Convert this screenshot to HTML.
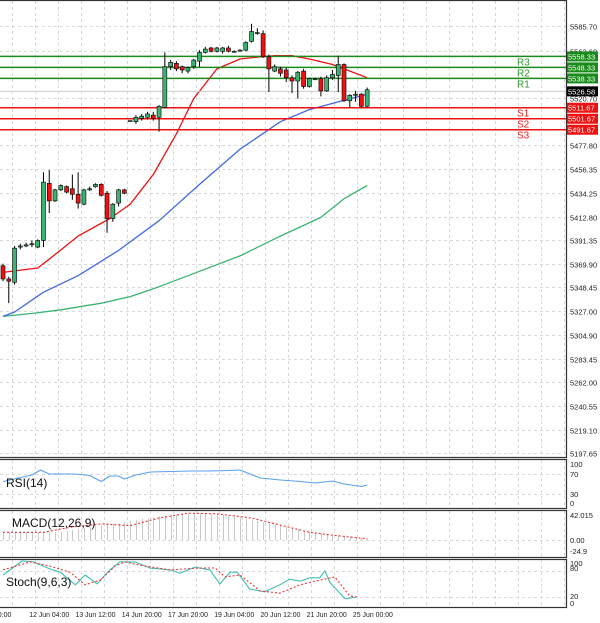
<!DOCTYPE html>
<html><head><meta charset="utf-8"><style>
body{margin:0;background:#fff;}
svg{display:block;font-family:"Liberation Sans",sans-serif;}
</style></head><body>
<svg id="c" width="600" height="623" viewBox="0 0 600 623"></svg>
<script>
const opens=[5368,5356,5353,5385,5386,5388,5385,5391,5443,5427,5437,5440,5438,5433,5424,5437,5440,5442,5434,5411,5425,5437,5500,5499,5502,5503,5505,5503,5512,5549,5552,5549,5545,5549,5554,5562,5566,5563,5563,5566,5563,5564,5564,5572,5580,5579,5558,5545,5547,5546,5539,5536,5545,5531,5538,5538,5527,5539,5541,5551,5518,5523,5524,5513];
const closes=[5356,5354,5384,5386,5387,5388,5391,5444,5427,5437,5441,5435,5433,5425,5437,5438,5442,5432,5411,5424,5437,5434,5500,5503,5504,5506,5502,5513,5549,5553,5547,5546,5548,5555,5562,5565,5563,5566,5566,5563,5563,5564,5571,5581,5580,5558,5547,5549,5543,5539,5536,5544,5531,5538,5538,5527,5539,5542,5551,5518,5523,5524,5513,5528];
const highs=[5370,5358,5386,5388,5389,5391,5392,5453,5455,5438,5442,5441,5451,5453,5438,5440,5443,5443,5436,5425,5438,5438,5500,5505,5506,5508,5508,5514,5562,5555,5554,5550,5549,5556,5564,5567,5567,5567,5567,5568,5564,5565,5572,5588,5584,5582,5560,5551,5549,5548,5541,5545,5547,5539,5539,5540,5541,5546,5559,5552,5524,5527,5525,5530];
const lows=[5354,5334,5351,5383,5385,5385,5384,5385,5416,5426,5436,5434,5428,5420,5423,5436,5439,5431,5398,5408,5422,5433,5500,5497,5500,5501,5500,5490,5511,5546,5545,5543,5543,5547,5549,5561,5562,5562,5561,5562,5562,5563,5563,5571,5578,5557,5526,5544,5540,5535,5525,5520,5529,5530,5537,5522,5526,5537,5526,5517,5512,5517,5512,5512];
const ma1Idx=[0,6,8,13,18.5,22,26,30,33,37,41,44.5,47,50,53,57,59,63];
const ma1Val=[5362,5366,5374,5395,5411,5424,5451,5488,5520,5547,5556,5558,5559,5559,5556,5551,5547,5539];
const ma2Idx=[0,2,7,13,20,27,34,41,48,53,58,63];
const ma2Val=[5322,5326,5344,5359,5382,5409,5442,5474,5499,5510,5517,5524];
const ma3Idx=[0,5.5,10,17,22,27,34,41,48,55,59,63];
const ma3Val=[5322,5325,5328,5334,5340,5349,5363,5377,5395,5412,5429,5441];
const resLevels=[5558.33,5548.33,5538.33];
const resNames=["R3","R2","R1"];
const supLevels=[5511.67,5501.67,5491.67];
const supNames=["S1","S2","S3"];
const lastPrice=5526.58;
const priceTicks=[5585.70,5563.60,5520.70,5477.80,5456.35,5434.25,5412.80,5391.35,5369.90,5348.45,5327.00,5304.90,5283.45,5262.00,5240.55,5219.10,5197.65];
const rsiIdx=[0,5,6.5,8,12.5,15,17,18.5,20,21,23,25.5,29,32.5,36,39,41,44.5,48,51.5,54,57,59,62,63];
const rsiVal=[55,68,78,70,70,67,55,66,66,60,68,74,75,76,76,77,78,62,58,55,52,56,50,45,48];
const macdHist=[13,13,13,13,13,13,13,13,13,13,14,15,17,19,20,22,24,25,26,27,28,30,32,34,36,37,38,40,41,42,43,44,45,45,45,45,44,43,42,41,40,38,36,34,32,30,28,26,24,22,20,18,16,14,12,11,10,9,8,7,6,5,4,3];
const sigIdx=[0,7,12,17,22,27,32,37,43,48,53,58,63];
const sigVal=[13,13,22,27,24,37,45,44,37,25,13,7,2];
const stKIdx=[0,3.3,5.2,8.1,9.9,12.5,14.2,16.3,18.5,20.2,22.8,25.4,28.9,30.6,33.2,35.8,37.5,39.3,40.5,42.7,45.3,47.9,49.6,51.4,53.1,54.8,55.7,56.6,59.2,61.2];
const stKVal=[67,97,95,80,73,46,67,48,78,95,95,82,78,71,84,78,48,73,73,37,31,46,58,54,61,61,76,50,16,20];
const stDIdx=[0,4.7,8.1,11.6,14.2,16.8,19.4,21.1,23.7,28.9,34.1,36.7,38.4,41,44.5,47.9,51.4,54.8,57.4,60,61.2];
const stDVal=[78,95,86,73,46,56,86,95,88,78,82,82,63,67,33,28,46,56,63,22,20];
const timeLabels=["11 Jun 20:00","12 Jun 04:00","13 Jun 12:00","14 Jun 20:00","17 Jun 20:00","19 Jun 04:00","20 Jun 12:00","21 Jun 20:00","25 Jun 00:00"];
const timeIdx=[-2,8,16,24,32,40,48,56,64];

const NS="http://www.w3.org/2000/svg";
const svg=document.getElementById('c');
function mk(t,a,p){const e=document.createElementNS(NS,t);for(const k in a)e.setAttribute(k,a[k]);(p||svg).appendChild(e);return e;}
const X=i=>3+i*5.78;
const Y=p=>145+(5477.8-p)*1.1;
const AX=566;
const rsiY=v=>509-v*0.5;
const macdY=v=>540-v*0.595;
const stY=v=>606.3-v*0.467;
const grid={stroke:"#d8d8d8","stroke-dasharray":"3,3","stroke-width":1};

for(let gx=12;gx<AX;gx+=23){
  [[1,457],[460,507],[511,556],[560,606]].forEach(r=>{
    const l=mk('line',Object.assign({x1:gx+.5,x2:gx+.5,y1:r[0],y2:r[1]},grid));
    
    
  });
}
priceTicks.forEach(p=>{
  const y=Math.round(Y(p))+.5;
  const l=mk('line',Object.assign({x1:0,x2:AX,y1:y,y2:y},grid));
  
  
  const t=mk('text',{x:570,y:y+3,"font-size":7.5,fill:"#222"});
  t.textContent=p.toFixed(2);
  
  
});
function line(idx,val,fy,col,name,extra){
  const d=idx.map((i,k)=>(k?'L':'M')+X(i).toFixed(1)+','+fy(val[k]).toFixed(1)).join('');
  const e=mk('path',Object.assign({d:d,fill:'none',stroke:col,'stroke-width':1.3,'stroke-linejoin':'round'},extra||{}));
  
  
}
line(ma3Idx,ma3Val,Y,'#3cb371','ma-green');
line(ma2Idx,ma2Val,Y,'#4169e1','ma-blue');
line(ma1Idx,ma1Val,Y,'#ee1111','ma-red');
resLevels.forEach((p,k)=>{
  const y=Y(p);
  const l=mk('line',{x1:0,x2:AX,y1:y,y2:y,stroke:'#1a8a1a','stroke-width':1.5});
  
  
  const t=mk('text',{x:517,y:y+9,'font-size':10,fill:'#2e9a2e'});t.textContent=resNames[k];
  
  
  const r=mk('rect',{x:567,y:y-5,width:31,height:10,fill:'#1a8a1a'});
  
  
  const tt=mk('text',{x:568,y:y+3,'font-size':7.5,fill:'#fff'});tt.textContent=p.toFixed(2);
  
  
});
supLevels.forEach((p,k)=>{
  const y=Y(p);
  const l=mk('line',{x1:0,x2:AX,y1:y,y2:y,stroke:'#ee1111','stroke-width':1.5});
  
  
  const t=mk('text',{x:517,y:y+9,'font-size':10,fill:'#ee2222'});t.textContent=supNames[k];
  
  
  const r=mk('rect',{x:567,y:y-5,width:31,height:10,fill:'#ee1111'});
  
  
  const tt=mk('text',{x:568,y:y+3,'font-size':7.5,fill:'#fff'});tt.textContent=p.toFixed(2);
  
  
});
{
  const y=Y(lastPrice);
  const l=mk('line',{x1:0,x2:AX,y1:y,y2:y,stroke:'#ccc','stroke-width':1});
  
  
  const r=mk('rect',{x:567,y:y-5,width:31,height:10,fill:'#000'});
  
  
  const tt=mk('text',{x:568,y:y+3,'font-size':7.5,fill:'#fff'});tt.textContent=lastPrice.toFixed(2);
  
  
}
opens.forEach((o,i)=>{
  const c=closes[i],x=X(i);
  const w=mk('line',{x1:x,x2:x,y1:Y(highs[i]),y2:Y(lows[i]),stroke:'#000','stroke-width':1});
  
  
  const top=Y(Math.max(o,c)),bot=Y(Math.min(o,c));
  const b=mk('rect',{x:x-2,y:top,width:4,height:Math.max(1,bot-top),fill:c>=o?'#3cb371':'#ee1111',stroke:'#000','stroke-width':0.6});
  
  
});
[[0,0,AX,457],[0,459,AX,49],[0,510,AX,47],[0,559,AX,48]].forEach(r=>{
  const f=mk('rect',{x:r[0]-1,y:r[1]+.5,width:r[2]+1.5,height:r[3],fill:'none',stroke:'#333','stroke-width':1.2});
  
  
});
function sub(lbl,y){const t=mk('text',{x:570,y:y,'font-size':7.5,fill:'#222'});t.textContent=lbl;
  
  }
function hg(y){const l=mk('line',Object.assign({x1:0,x2:AX,y1:y,y2:y},grid));
  
  }
hg(474.5);hg(494.5);
sub('100',467);sub('70',477);sub('30',497);sub('0',506);
line(rsiIdx,rsiVal,rsiY,'#5aa0ef','rsi-line',{'stroke-width':1.1});
{const t=mk('text',{x:6,y:487,'font-size':12,fill:'#111'});t.textContent='RSI(14)';
}
hg(540.5);
sub('42.015',518);sub('0.00',543);sub('-24.9',554);
macdHist.forEach((v,i)=>{
  const x=Math.round(X(i))+.5;
  const b=mk('line',{x1:x,x2:x,y1:macdY(0),y2:macdY(v),stroke:'#c8c8c8','stroke-width':1});
  
  
});
line(sigIdx,sigVal,macdY,'#ee3333','macd-signal',{'stroke-dasharray':'2,2','stroke-width':1.1});
{const t=mk('text',{x:12,y:527,'font-size':12,fill:'#111'});t.textContent='MACD(12,26,9)';
}
hg(571.5);hg(597.5);
sub('100',566);sub('80',571);sub('20',599);sub('0',606);
line(stKIdx,stKVal,stY,'#40c0b0','stoch-main',{'stroke-width':1.1});
line(stDIdx,stDVal,stY,'#ee3333','stoch-signal',{'stroke-dasharray':'2,2','stroke-width':1.1});
{const t=mk('text',{x:6,y:586,'font-size':12,fill:'#111'});t.textContent='Stoch(9,6,3)';
}
timeLabels.forEach((s,k)=>{
  const t=mk('text',{x:X(timeIdx[k])-20,y:617,'font-size':7,fill:'#222',textLength:40,lengthAdjust:'spacingAndGlyphs'});
  t.textContent=s;
  
  
});
</script>
</body></html>
